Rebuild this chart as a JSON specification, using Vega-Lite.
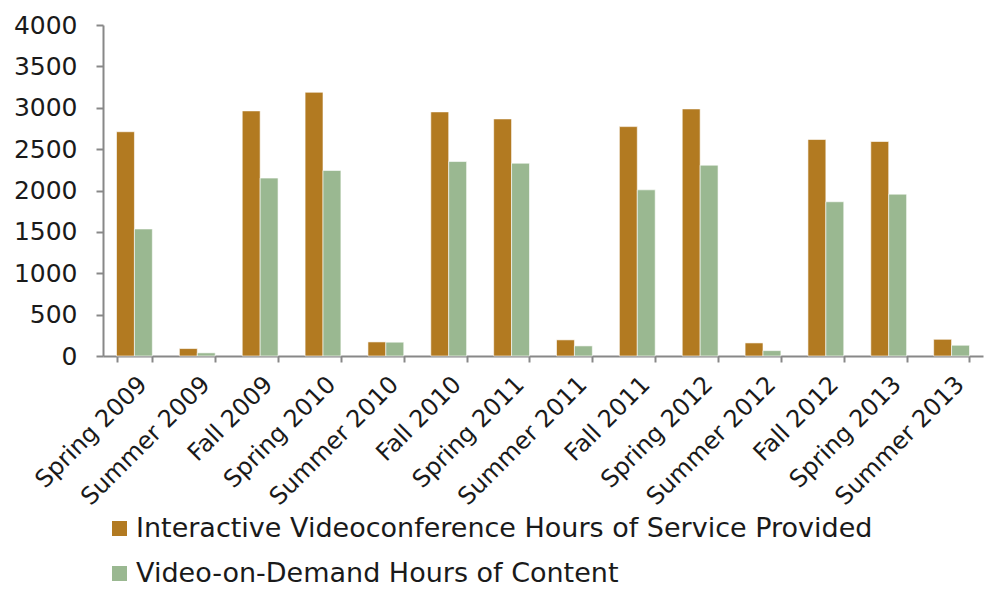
{
  "$schema": "https://vega.github.io/schema/vega-lite/v6.json",
  "width": 880,
  "height": 331,
  "autosize": {"type": "none"},
  "padding": {"left": 103, "top": 25, "right": 3, "bottom": 233},
  "background": "white",
  "config": {
    "view": {"stroke": null},
    "font": "DejaVu Sans"
  },
  "data": {
    "values": [
      {"term": "Spring 2009", "series": "Interactive Videoconference Hours of Service Provided", "hours": 2710},
      {"term": "Spring 2009", "series": "Video-on-Demand Hours of Content", "hours": 1535},
      {"term": "Summer 2009", "series": "Interactive Videoconference Hours of Service Provided", "hours": 90},
      {"term": "Summer 2009", "series": "Video-on-Demand Hours of Content", "hours": 38},
      {"term": "Fall 2009", "series": "Interactive Videoconference Hours of Service Provided", "hours": 2962},
      {"term": "Fall 2009", "series": "Video-on-Demand Hours of Content", "hours": 2150},
      {"term": "Spring 2010", "series": "Interactive Videoconference Hours of Service Provided", "hours": 3187},
      {"term": "Spring 2010", "series": "Video-on-Demand Hours of Content", "hours": 2242},
      {"term": "Summer 2010", "series": "Interactive Videoconference Hours of Service Provided", "hours": 170},
      {"term": "Summer 2010", "series": "Video-on-Demand Hours of Content", "hours": 167},
      {"term": "Fall 2010", "series": "Interactive Videoconference Hours of Service Provided", "hours": 2950},
      {"term": "Fall 2010", "series": "Video-on-Demand Hours of Content", "hours": 2350},
      {"term": "Spring 2011", "series": "Interactive Videoconference Hours of Service Provided", "hours": 2865},
      {"term": "Spring 2011", "series": "Video-on-Demand Hours of Content", "hours": 2330},
      {"term": "Summer 2011", "series": "Interactive Videoconference Hours of Service Provided", "hours": 195},
      {"term": "Summer 2011", "series": "Video-on-Demand Hours of Content", "hours": 122},
      {"term": "Fall 2011", "series": "Interactive Videoconference Hours of Service Provided", "hours": 2772},
      {"term": "Fall 2011", "series": "Video-on-Demand Hours of Content", "hours": 2008},
      {"term": "Spring 2012", "series": "Interactive Videoconference Hours of Service Provided", "hours": 2986},
      {"term": "Spring 2012", "series": "Video-on-Demand Hours of Content", "hours": 2306},
      {"term": "Summer 2012", "series": "Interactive Videoconference Hours of Service Provided", "hours": 158},
      {"term": "Summer 2012", "series": "Video-on-Demand Hours of Content", "hours": 65},
      {"term": "Fall 2012", "series": "Interactive Videoconference Hours of Service Provided", "hours": 2616},
      {"term": "Fall 2012", "series": "Video-on-Demand Hours of Content", "hours": 1864},
      {"term": "Spring 2013", "series": "Interactive Videoconference Hours of Service Provided", "hours": 2592},
      {"term": "Spring 2013", "series": "Video-on-Demand Hours of Content", "hours": 1956},
      {"term": "Summer 2013", "series": "Interactive Videoconference Hours of Service Provided", "hours": 202},
      {"term": "Summer 2013", "series": "Video-on-Demand Hours of Content", "hours": 130}
    ]
  },
  "mark": {"type": "bar", "stroke": "white", "strokeWidth": 0.6},
  "encoding": {
    "x": {
      "field": "term",
      "type": "nominal",
      "sort": null,
      "title": null,
      "scale": {"paddingInner": 0.43, "paddingOuter": 0.215},
      "axis": {
        "labelAngle": -45,
        "labelFontSize": 24,
        "labelColor": "#1a1a1a",
        "labelPadding": 10,
        "labelDx": -4,
        "domainColor": "#888888",
        "domainWidth": 2,
        "tickColor": "#888888",
        "tickWidth": 2,
        "tickSize": 6,
        "tickBand": "extent",
        "grid": false
      }
    },
    "xOffset": {"field": "series", "type": "nominal", "sort": null, "scale": {"paddingInner": 0}},
    "y": {
      "field": "hours",
      "type": "quantitative",
      "title": null,
      "scale": {"domain": [0, 4000]},
      "axis": {
        "values": [0, 500, 1000, 1500, 2000, 2500, 3000, 3500, 4000],
        "format": "d",
        "labelFontSize": 25,
        "labelColor": "#1a1a1a",
        "labelPadding": 19,
        "domainColor": "#888888",
        "domainWidth": 2,
        "tickColor": "#888888",
        "tickWidth": 2,
        "tickSize": 7,
        "grid": false
      }
    },
    "color": {
      "field": "series",
      "type": "nominal",
      "sort": null,
      "scale": {"range": ["#b27a21", "#9ab891"]},
      "legend": {
        "title": null,
        "orient": "none",
        "legendX": 3,
        "legendY": 490,
        "direction": "vertical",
        "symbolType": "square",
        "symbolSize": 225,
        "symbolStrokeWidth": 0,
        "labelFontSize": 27,
        "labelColor": "#1a1a1a",
        "labelLimit": 900,
        "labelOffset": 3,
        "rowPadding": 17
      }
    }
  }
}
